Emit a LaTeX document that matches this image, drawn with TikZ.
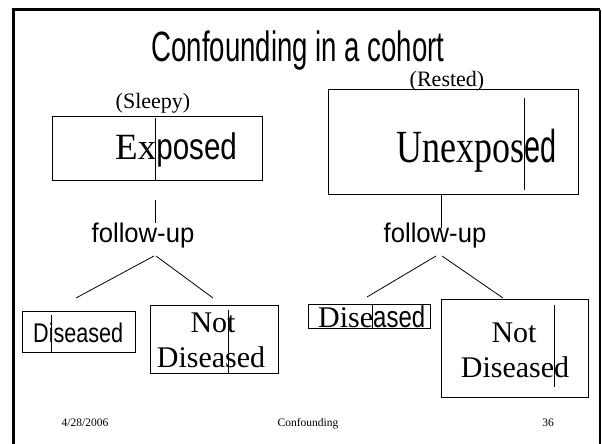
\documentclass[tikz,border=0pt]{standalone}
\usepackage{fontspec}
\setmainfont{Liberation Serif}
\newfontfamily\condsans[FakeStretch=0.69]{Liberation Sans}
\newfontfamily\narrowsans[FakeStretch=0.8]{Liberation Sans}
\newfontfamily\plainsans[FakeStretch=0.95]{Liberation Sans}
\begin{document}
\begin{tikzpicture}[x=1pt,y=-1pt,
  box/.style={draw,line width=0.8pt,anchor=north west,inner sep=0pt},
  txt/.style={inner sep=0pt,anchor=base west},
  ctxt/.style={inner sep=0pt,anchor=base},
  tickline/.style={line width=0.8pt},
  link/.style={line width=0.8pt}]
\useasboundingbox (0,0) rectangle (602,444);
% slide frame (open at the bottom)
\draw[line width=3pt] (13.5,444) -- (13.5,10) -- (600,10);
\draw[line width=1.5pt] (600,10) -- (600,444);

% title
\node[ctxt] (title) at (298,62) {\scalebox{1}[1.06]{\condsans\fontsize{40}{40}\selectfont Confounding in a cohort}};

% exposure groups
\node[ctxt] (sleepy) at (153,108) {\fontsize{22}{22}\selectfont (Sleepy)};
\node[box,minimum width=210pt,minimum height=64pt] (exp) at (52,116) {};
\node[txt] (exptxt) at (115,159) {\fontsize{37}{37}\selectfont Ex\narrowsans posed};
\draw[tickline] (155,118) -- (155,180);

\node[ctxt] (rested) at (447,86) {\fontsize{22}{22}\selectfont (Rested)};
\node[box,minimum width=250pt,minimum height=105pt] (unexp) at (328,89) {};
\node[txt] (unexptxt) at (396,162) {\scalebox{1}[1.28]{\fontsize{36}{36}\selectfont Unexpos\narrowsans ed}};
\draw[tickline] (524,98) -- (524,190);

% follow-up stems
\node[ctxt] (fuL) at (143,242) {\plainsans\fontsize{27}{27}\selectfont follow-up};
\node[ctxt] (fuR) at (435,242) {\plainsans\fontsize{27}{27}\selectfont follow-up};
\coordinate (stemLa) at (155,200);
\coordinate (stemLb) at (155,223);
\draw[link] (stemLa) -- (stemLb);
\coordinate (stemRb) at (441,228);
\draw[link] (unexp.south -| stemRb) -- (stemRb);

% outcome boxes
\node[box,minimum width=113pt,minimum height=41pt] (disL) at (22,311) {};
\node[txt] (disLtxt) at (33,342) {\narrowsans\fontsize{27}{27}\selectfont Diseased};
\draw[tickline] (51,315) -- (51,352);

\node[box,minimum width=128pt,minimum height=68pt] (ndL) at (150,305) {};
\node[ctxt] (ndLa) at (213,332) {\fontsize{30}{30}\selectfont Not};
\node[ctxt] (ndLb) at (211,367) {\fontsize{30}{30}\selectfont Diseased};
\draw[tickline] (228,310) -- (228,373);

\node[box,minimum width=122pt,minimum height=24pt] (disR) at (308,304) {};
\node[txt] (disRtxt) at (318,327) {\fontsize{30}{30}\selectfont Dise\narrowsans ased};
\draw[tickline] (372,304) -- (372,328);

\node[box,minimum width=147pt,minimum height=98pt] (ndR) at (441,299) {};
\node[ctxt] (ndRa) at (514,342) {\fontsize{30}{30}\selectfont Not};
\node[ctxt] (ndRb) at (515,377) {\fontsize{30}{30}\selectfont Diseased};
\draw[tickline] (554,305) -- (554,387);

% branches
\coordinate (brL) at (154,256);
\coordinate (brL2) at (156,256);
\coordinate (brR) at (436,256);
\coordinate (brR2) at (442,256);
\coordinate (endL1) at (76,298);
\coordinate (endL2) at (213,298);
\coordinate (endR1) at (367,297);
\coordinate (endR2) at (503,298);
\draw[link] (brL) -- (endL1);
\draw[link] (brL2) -- (endL2);
\draw[link] (brR) -- (endR1);
\draw[link] (brR2) -- (endR2);

% footer
\node[ctxt] (date) at (85,426) {\fontsize{11.5}{12}\selectfont 4/28/2006};
\node[ctxt] (foot) at (308,426) {\fontsize{11.5}{12}\selectfont Confounding};
\node[ctxt] (page) at (548,426) {\fontsize{11.5}{12}\selectfont 36};
\end{tikzpicture}
\end{document}
